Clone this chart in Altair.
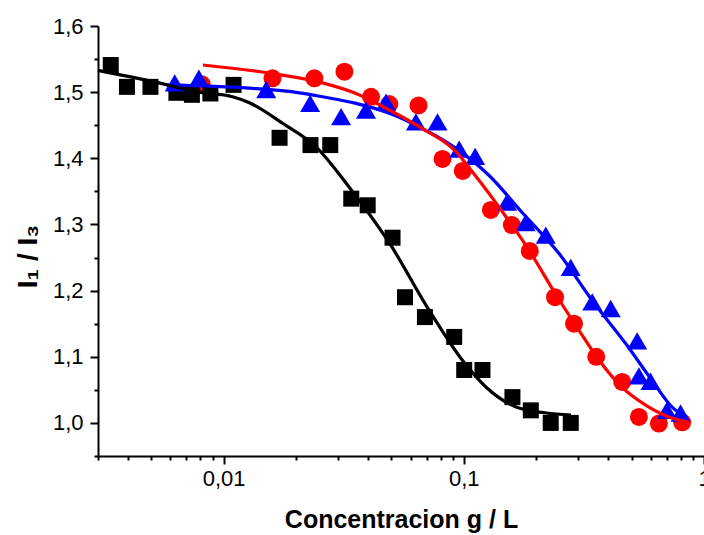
import altair as alt
import pandas as pd

# ---- data ----
sq_x = [0.00339, 0.00396, 0.00496, 0.00636, 0.00738, 0.00881, 0.0110, 0.0171, 0.0230, 0.0278,
        0.0340, 0.0398, 0.0505, 0.0569, 0.0689, 0.0912, 0.1004, 0.1196, 0.1594, 0.1901, 0.2301, 0.2788]
sq_y = [1.541, 1.508, 1.508, 1.499, 1.496, 1.498, 1.511, 1.431, 1.420, 1.420,
        1.339, 1.329, 1.280, 1.190, 1.160, 1.130, 1.080, 1.080, 1.039, 1.019, 1.000, 1.000]

circ_x = [0.00810, 0.01598, 0.02388, 0.03184, 0.04111, 0.04897, 0.06481, 0.08153, 0.09895, 0.1296,
          0.1585, 0.1882, 0.2398, 0.2876, 0.3559, 0.4565, 0.5358, 0.6490, 0.8111]
circ_y = [1.512, 1.521, 1.521, 1.531, 1.493, 1.482, 1.480, 1.399, 1.381, 1.322,
          1.299, 1.260, 1.190, 1.150, 1.100, 1.062, 1.009, 0.999, 1.001]

tri_x = [0.00626, 0.00789, 0.01505, 0.02292, 0.03084, 0.03917, 0.04745, 0.06322, 0.07773, 0.0957,
         0.1115, 0.1515, 0.1812, 0.2194, 0.2788, 0.3426, 0.4088, 0.5270, 0.5360, 0.5991, 0.7004, 0.7986]
tri_y = [1.514, 1.521, 1.504, 1.483, 1.463, 1.473, 1.485, 1.455, 1.455, 1.414,
         1.403, 1.334, 1.303, 1.284, 1.235, 1.183, 1.173, 1.124, 1.071, 1.063, 1.019, 1.015]

blk_fit_x = [0.00300, 0.00493, 0.00795, 0.0109, 0.0128, 0.0176, 0.0243, 0.0334, 0.0490, 0.0718,
             0.0985, 0.1239, 0.1651, 0.2201, 0.2796]
blk_fit_y = [1.533, 1.517, 1.500, 1.493, 1.484, 1.453, 1.417, 1.356, 1.272, 1.170,
             1.095, 1.054, 1.024, 1.015, 1.012]

red_fit_x = [0.00820, 0.01598, 0.02579, 0.03559, 0.04897, 0.06714, 0.09273, 0.1083, 0.1496, 0.1870,
             0.2398, 0.3017, 0.3653, 0.4552, 0.5712, 0.7142, 0.8645]
red_fit_y = [1.541, 1.528, 1.514, 1.498, 1.473, 1.445, 1.410, 1.380, 1.312, 1.261,
             1.196, 1.140, 1.095, 1.054, 1.027, 1.009, 1.001]

blu_fit_x = [0.00578, 0.01282, 0.02069, 0.02579, 0.03559, 0.04897, 0.06714, 0.09273, 0.1275, 0.1749,
             0.2492, 0.3426, 0.4719, 0.6083, 0.7368, 0.8378]
blu_fit_y = [1.511, 1.506, 1.499, 1.493, 1.483, 1.468, 1.445, 1.415, 1.374, 1.318,
             1.256, 1.185, 1.120, 1.064, 1.024, 1.009]

x_ticks = [0.003, 0.004, 0.005, 0.006, 0.007, 0.008, 0.009,
           0.01, 0.02, 0.03, 0.04, 0.05, 0.06, 0.07, 0.08, 0.09,
           0.1, 0.2, 0.3, 0.4, 0.5, 0.6, 0.7, 0.8, 0.9, 1]
y_ticks = [0.95, 1.0, 1.05, 1.1, 1.15, 1.2, 1.25, 1.3, 1.35, 1.4, 1.45, 1.5, 1.55, 1.6]

FONT = "Liberation Sans"

x_major_test = "indexof([0.01, 0.1, 1], datum.value) >= 0"
y_major_test = "abs(datum.value * 10 - round(datum.value * 10)) < 0.001"

x_axis = alt.Axis(
    values=x_ticks,
    title="Concentracion g / L",
    labelExpr=f"{x_major_test} ? replace(toString(datum.value), '.', ',') : ''",
    labelOverlap=False,
    labelFlush=False,
    grid=False,
    tickSize={"condition": {"test": x_major_test, "value": 8}, "value": 4},
    tickWidth=2,
    tickColor="black",
    domainColor="black",
    domainWidth=2,
    labelFont=FONT,
    labelFontSize=22,
    labelColor="black",
    labelPadding=4,
    titleFont=FONT,
    titleFontSize=25,
    titleFontWeight="bold",
    titleColor="black",
    titleBaseline="alphabetic",
    titleAlign="center",
    titleX=303,
    titleY=71,
)

y_axis = alt.Axis(
    values=y_ticks,
    title="I₁ / I₃",
    labelExpr=f"{y_major_test} ? replace(format(datum.value, '.1f'), '.', ',') : ''",
    labelOverlap=False,
    labelFlush=False,
    grid=False,
    tickSize={"condition": {"test": y_major_test, "value": 8}, "value": 4},
    tickWidth=2,
    tickColor="black",
    domainColor="black",
    domainWidth=2,
    labelFont=FONT,
    labelFontSize=22,
    labelColor="black",
    labelPadding=7,
    titleFont=FONT,
    titleFontSize=28,
    titleFontWeight="bold",
    titleColor="black",
    titleAngle=270,
    titleBaseline="alphabetic",
    titleAlign="center",
    titleX=-62,
    titleY=230,
)

xenc = alt.X("x:Q", scale=alt.Scale(type="log", domain=[0.003, 1], nice=False), axis=x_axis)
yenc = alt.Y("y:Q", scale=alt.Scale(domain=[0.95, 1.6], nice=False, zero=False), axis=y_axis)


def points(xs, ys, shape, color, size):
    df = pd.DataFrame({"x": xs, "y": ys})
    return alt.Chart(df).mark_point(
        shape=shape, filled=True, color=color, size=size, opacity=1, strokeWidth=0
    ).encode(x=xenc, y=yenc)


def curve(xs, ys, color):
    df = pd.DataFrame({"x": xs, "y": ys})
    return alt.Chart(df).mark_line(
        color=color, strokeWidth=3.2, interpolate="monotone"
    ).encode(x=xenc, y=yenc)


chart = alt.layer(
    points(circ_x, circ_y, "circle", "#FF0000", 324),
    points(sq_x, sq_y, "square", "#000000", 256),
    curve(blu_fit_x, blu_fit_y, "#0000FF"),
    points(tri_x, tri_y, "triangle-up", "#0000FF", 400),
    curve(blk_fit_x, blk_fit_y, "#000000"),
    curve(red_fit_x, red_fit_y, "#FF0000"),
).properties(
    width=606,
    height=430,
    autosize=alt.AutoSizeParams(type="none"),
    padding={"left": 98, "top": 26, "right": 0, "bottom": 79},
    background="white",
).configure_view(stroke=None)

chart.save("out.html", embed_options={"renderer": "svg", "actions": False})
